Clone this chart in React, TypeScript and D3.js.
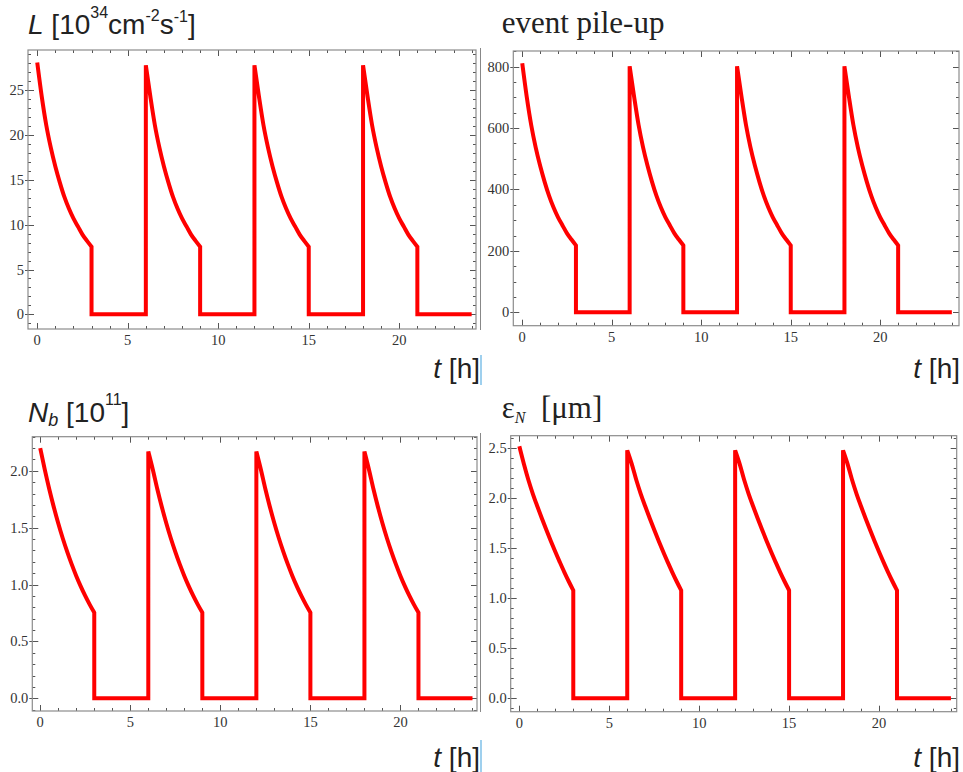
import React, { useEffect, useRef } from 'react';
import * as d3 from 'd3';

// fill pattern: 3 h of physics, 3 h turnaround, over 24 h
const fillStarts = [0, 6, 12, 18];
const fillLength = 3;
const runEnd = 24;
const fillHours = [0, 0.25, 0.5, 0.75, 1, 1.25, 1.5, 1.75, 2, 2.25, 2.5, 2.75, 3];

const lumiPeaks = [28.1, 27.8, 27.8, 27.8];
const lumiDecay = [28.1, 24.3, 21.1, 18.6, 16.5, 14.7, 13.1, 11.8, 10.7, 9.8, 8.9, 8.2, 7.55];

const pileupPeaks = [811, 801, 801, 801];
const pileupDecay = [811, 702, 610, 537, 477, 425, 379, 341, 309, 283, 257, 237, 218];

const bunchPeaks = [2.2, 2.17, 2.17, 2.17];
const bunchDecay = [2.2, 2.012, 1.84, 1.683, 1.539, 1.407, 1.287, 1.177, 1.076, 0.984, 0.9, 0.823, 0.753];

const emitPeaks = [2.52, 2.48, 2.48, 2.48];
const emitDecay = [2.52, 2.345, 2.185, 2.045, 1.92, 1.8, 1.685, 1.573, 1.465, 1.362, 1.262, 1.168, 1.08];

const timeTicks = [0, 5, 10, 15, 20];
const lumiTicks = [0, 5, 10, 15, 20, 25];
const pileupTicks = [0, 200, 400, 600, 800];
const bunchTicks = [0, 0.5, 1, 1.5, 2];
const emitTicks = [0, 0.5, 1, 1.5, 2, 2.5];

const sans = '"Liberation Sans", Arial, sans-serif';
const serif = '"Liberation Serif", "Times New Roman", serif';

const panels = [
  { key: 'lumi', frame: [28, 50, 476, 329], xDom: [-0.51, 24.24], yDom: [-1.64, 29.5],
    peaks: lumiPeaks, decay: lumiDecay, yTicks: lumiTicks, yMinor: 1, fmt: d3.format('d'),
    title: [28, 33.5], tLabel: [480, 378] },
  { key: 'pileup', frame: [513.3, 51, 959, 325.7], xDom: [-0.5, 24.4], yDom: [-43.6, 851],
    peaks: pileupPeaks, decay: pileupDecay, yTicks: pileupTicks, yMinor: 50, fmt: d3.format('d'),
    title: [501.7, 33.3], tLabel: [960, 378] },
  { key: 'bunch', frame: [32.3, 436.7, 477, 711], xDom: [-0.44, 24.25], yDom: [-0.112, 2.3],
    peaks: bunchPeaks, decay: bunchDecay, yTicks: bunchTicks, yMinor: 0.1, fmt: d3.format('.1f'),
    title: [28, 422], tLabel: [480, 766.5] },
  { key: 'emit', frame: [510.7, 435.7, 956.7, 711.7], xDom: [-0.48, 24.32], yDom: [-0.134, 2.626],
    peaks: emitPeaks, decay: emitDecay, yTicks: emitTicks, yMinor: 0.1, fmt: d3.format('.1f'),
    title: [501.7, 418], tLabel: [960, 766.5] },
];

// one path: smooth decay during each fill, straight dump / refill / idle segments
function seriesPath(p, x, y) {
  const smooth = d3.line().x(d => x(d[0])).y(d => y(d[1])).curve(d3.curveMonotoneX);
  let d = '';
  fillStarts.forEach((s, i) => {
    if (i > 0) d += `L${x(s)},${y(0)}`;
    const pts = fillHours.map((h, j) => [s + h, j === 0 ? p.peaks[i] : p.decay[j]]);
    const seg = smooth(pts);
    d += i === 0 ? seg : 'L' + seg.slice(1);
    d += `L${x(s + fillLength)},${y(0)}`;
  });
  d += `L${x(runEnd)},${y(0)}`;
  return d;
}

function minorRange(lo, hi, step) {
  const out = [];
  for (let k = Math.ceil(lo / step - 1e-9); k * step <= hi + 1e-9; k++) out.push(+(k * step).toFixed(6));
  return out;
}

function drawTitle(g, p) {
  const [x, y] = p.title;
  const t = g.append('text').attr('x', x).attr('y', y).attr('fill', '#222');
  if (p.key === 'lumi') {
    t.style('font-family', sans).style('font-size', '28px');
    t.append('tspan').style('font-style', 'italic').text('L');
    t.append('tspan').text(' [10');
    t.append('tspan').attr('dy', -16).style('font-size', '16px').text('34');
    t.append('tspan').attr('dy', 16).text('cm');
    t.append('tspan').attr('dy', -13).style('font-size', '16px').text('-2');
    t.append('tspan').attr('dy', 13).text('s');
    t.append('tspan').attr('dy', -12).style('font-size', '16px').text('-1');
    t.append('tspan').attr('dy', 12).text(']');
  } else if (p.key === 'pileup') {
    t.style('font-family', serif).style('font-size', '31px').text('event pile-up');
  } else if (p.key === 'bunch') {
    t.style('font-family', sans).style('font-size', '28px');
    t.append('tspan').style('font-style', 'italic').text('N');
    t.append('tspan').attr('dy', 4).style('font-style', 'italic').style('font-size', '18px').text('b');
    t.append('tspan').attr('dy', -4).text(' [10');
    t.append('tspan').attr('dy', -17).style('font-size', '16px').text('11');
    t.append('tspan').attr('dy', 17).text(']');
  } else {
    t.style('font-family', serif).style('font-size', '31px');
    t.append('tspan').text('ε');
    t.append('tspan').attr('dy', 5).style('font-style', 'italic').style('font-size', '16px').text('N');
    t.append('tspan').attr('dy', -5).text('\u00a0\u00a0[μm]');
  }
}

const App = () => {
  const ref = useRef(null);

  useEffect(() => {
    const svg = d3.select(ref.current);
    svg.selectAll('*').remove();

    // faint screenshot separators
    svg.append('line').attr('x1', 480.5).attr('x2', 480.5).attr('y1', 48).attr('y2', 330)
      .attr('stroke', '#888').attr('stroke-width', 1);
    svg.append('line').attr('x1', 480.5).attr('x2', 480.5).attr('y1', 433).attr('y2', 712)
      .attr('stroke', '#888').attr('stroke-width', 1);
    svg.append('line').attr('x1', 481).attr('x2', 481).attr('y1', 355).attr('y2', 385)
      .attr('stroke', '#9fd0ee').attr('stroke-width', 2);
    svg.append('line').attr('x1', 481).attr('x2', 481).attr('y1', 740).attr('y2', 772)
      .attr('stroke', '#9fd0ee').attr('stroke-width', 2);

    panels.forEach(p => {
      const [x0, y0, x1, y1] = p.frame;
      const x = d3.scaleLinear().domain(p.xDom).range([x0, x1]);
      const y = d3.scaleLinear().domain(p.yDom).range([y1, y0]);
      const g = svg.append('g');

      // ticks (inward, on all four sides)
      const ticks = g.append('g').attr('stroke', '#555').attr('stroke-width', 1);
      minorRange(0, runEnd, 1).forEach(v => {
        const len = timeTicks.includes(v) ? 6 : 3;
        const px = Math.round(x(v)) + 0.5;
        ticks.append('line').attr('x1', px).attr('x2', px).attr('y1', y1).attr('y2', y1 - len);
        ticks.append('line').attr('x1', px).attr('x2', px).attr('y1', y0).attr('y2', y0 + len);
      });
      minorRange(p.yDom[0], p.yDom[1], p.yMinor).forEach(v => {
        const len = p.yTicks.some(t => Math.abs(t - v) < 1e-6) ? 6 : 3;
        const py = Math.round(y(v)) + 0.5;
        ticks.append('line').attr('x1', x0).attr('x2', x0 + len).attr('y1', py).attr('y2', py);
        ticks.append('line').attr('x1', x1).attr('x2', x1 - len).attr('y1', py).attr('y2', py);
      });
      p.yTicks.forEach(v => {
        const py = Math.round(y(v)) + 0.5;
        ticks.append('line').attr('x1', x0 - 3).attr('x2', x0).attr('y1', py).attr('y2', py);
      });

      g.append('rect').attr('x', x0).attr('y', y0).attr('width', x1 - x0).attr('height', y1 - y0)
        .attr('fill', 'none').attr('stroke', '#8c8c8c').attr('stroke-width', 1.2);

      // tick labels
      timeTicks.forEach(v => {
        g.append('text').attr('x', x(v)).attr('y', y1 + 16).attr('text-anchor', 'middle')
          .style('font-family', serif).style('font-size', '14.5px').attr('fill', '#333').text(v);
      });
      p.yTicks.forEach(v => {
        g.append('text').attr('x', x0 - 4).attr('y', y(v) + 5).attr('text-anchor', 'end')
          .style('font-family', serif).style('font-size', '14.5px').attr('fill', '#333').text(p.fmt(v));
      });

      g.append('path').attr('d', seriesPath(p, x, y))
        .attr('fill', 'none').attr('stroke', '#ff0000').attr('stroke-width', 4)
        .attr('stroke-linejoin', 'miter');

      drawTitle(g, p);

      const tl = g.append('text').attr('x', p.tLabel[0]).attr('y', p.tLabel[1]).attr('text-anchor', 'end')
        .style('font-family', sans).style('font-size', '28px').attr('fill', '#222');
      tl.append('tspan').style('font-style', 'italic').text('t');
      tl.append('tspan').text(' [h]');
    });
  }, []);

  return (
    <svg ref={ref} width={963} height={772}
      style={{ position: 'absolute', left: 0, top: 0, background: '#fff' }} />
  );
};

export default App;
